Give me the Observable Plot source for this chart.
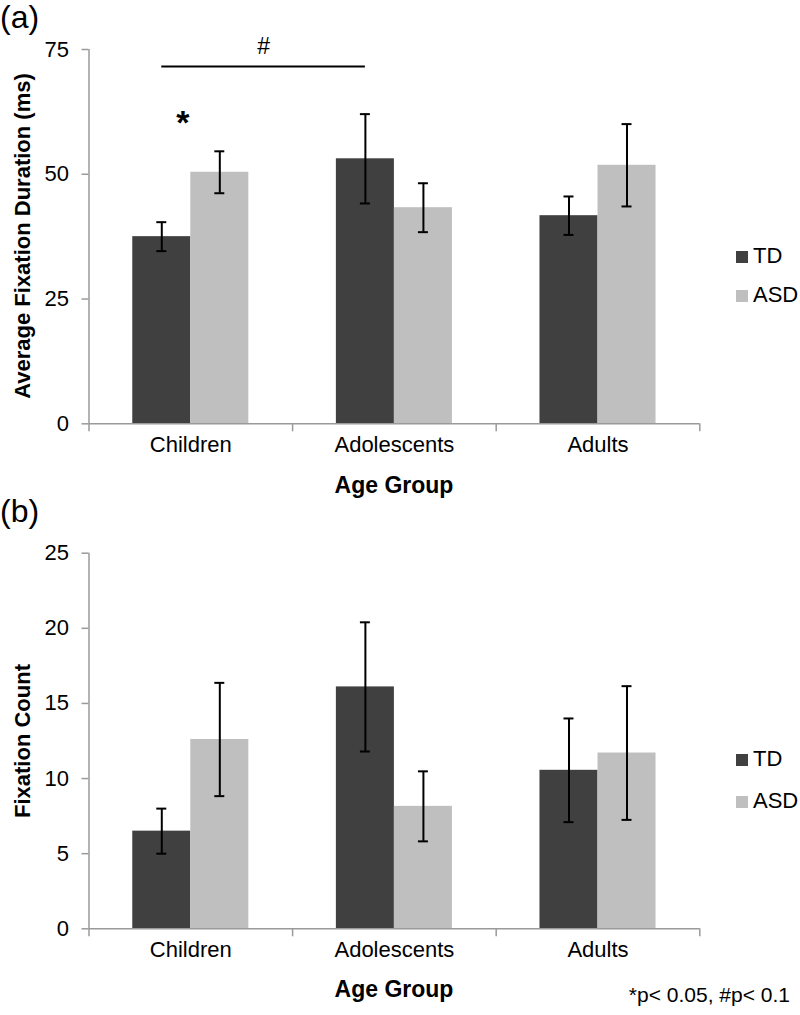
<!DOCTYPE html>
<html>
<head>
<meta charset="utf-8">
<script src="https://cdn.jsdelivr.net/npm/d3@7"></script>
<script src="https://cdn.jsdelivr.net/npm/@observablehq/plot@0.6"></script>
<style>
  html, body { margin: 0; padding: 0; background: #fff; }
  #wrap { position: relative; width: 800px; height: 1015px; overflow: hidden; font-family: "Liberation Sans", Arial, sans-serif; color: #000; }
  .abs { position: absolute; white-space: nowrap; line-height: 1; }
  .panel { position: absolute; left: 0; }
  .sw { position: absolute; width: 12px; height: 12px; }
  .ytitle { position: absolute; font-weight: bold; font-size: 22px; line-height: 1; white-space: nowrap; transform: translate(-50%, -50%) rotate(-90deg); }
</style>
</head>
<body>
<div id="wrap">
  <div class="abs" style="left:0px; top:0px; font-size:32px; line-height:1.1;">(a)</div>
  <div class="abs" style="left:0px; top:494px; font-size:32px; line-height:1.1;">(b)</div>

  <div class="ytitle" style="left:22.5px; top:236px;">Average Fixation Duration (ms)</div>
  <div class="ytitle" style="left:22.5px; top:740.5px;">Fixation Count</div>

  <div class="abs" style="left:394px; top:474px; transform:translateX(-50%); font-size:23px; font-weight:bold;">Age Group</div>
  <div class="abs" style="left:394px; top:978px; transform:translateX(-50%); font-size:23px; font-weight:bold;">Age Group</div>

  <div id="legA"></div>
  <div id="legB"></div>

  <div class="abs" style="right:10px; top:984px; font-size:21px;">*p&lt; 0.05, #p&lt; 0.1</div>

  <div id="panelA" class="panel" style="top:0px;"></div>
  <div id="panelB" class="panel" style="top:500px;"></div>
</div>
<script>
// ---- data ----
const groups = ["Children", "Adolescents", "Adults"];
const series = ["TD", "ASD"];
const seriesColors = ["#404040", "#bfbfbf"];

// (a) Average fixation duration (ms)
const durTD = [37.5, 53.1, 41.7];
const durTDErr = [2.9, 8.95, 3.85];
const durASD = [50.4, 43.3, 51.8];
const durASDErr = [4.2, 4.9, 8.25];
const durTicks = [0, 25, 50, 75];

// (b) Fixation count
const cntTD = [6.5, 16.1, 10.55];
const cntTDErr = [1.5, 4.3, 3.45];
const cntASD = [12.6, 8.15, 11.7];
const cntASDErr = [3.77, 2.33, 4.45];
const cntTicks = [0, 5, 10, 15, 20, 25];

// significance annotations in panel (a)
const hashFrom = ["Children", "TD"];
const hashTo = ["Adolescents", "TD"];
const hashLevel = [71.6];
const hashLabelLevel = [75.6];
const starGroup = ["Children"];
const starLevel = [60.2];

// ---- styles ----
const barFrac = 0.285;   // bar width as fraction of a category band
const capHalf = 0.0245;  // half width of error caps (band fraction)
const axisGray = "#9a9a9a";
const FONT = "'Liberation Sans', Arial, sans-serif";

function rowsOf(td, tdErr, asd, asdErr) {
  const vals = [td, asd], errs = [tdErr, asdErr];
  return groups.flatMap((g, gi) => series.map((s, si) => ({
    group: g, series: s, gi, si,
    value: vals[si][gi], err: errs[si][gi]
  })));
}
const x1Of = d => d.gi + 0.5 - barFrac + d.si * barFrac;
const xcOf = d => x1Of(d) + barFrac / 2;
const centerOf = (g, s) => groups.indexOf(g) + 0.5 - barFrac + series.indexOf(s) * barFrac + barFrac / 2;

function panel({rows, ticks, height, marginTop, marginBottom, extra = []}) {
  return Plot.plot({
    width: 800,
    height,
    marginLeft: 88.5,
    marginRight: 100.7,
    marginTop,
    marginBottom,
    x: {domain: [0, groups.length], axis: null},
    y: {domain: [0, d3.max(ticks)], axis: null},
    color: {domain: series, range: seriesColors},
    style: {fontFamily: FONT, fontSize: "22px", color: "#000", background: "transparent", overflow: "visible"},
    marks: [
      Plot.rectY(rows, {x1: x1Of, x2: d => x1Of(d) + barFrac, y: "value", fill: "series"}),
      Plot.ruleY([0], {stroke: axisGray, strokeWidth: 1.5}),
      Plot.ruleX([0], {stroke: axisGray, strokeWidth: 1.5}),
      Plot.axisY({ticks, tickSize: 7, tickPadding: 13, stroke: axisGray, strokeWidth: 1.5, fill: "#000", label: null, fontSize: 22}),
      Plot.axisX({ticks: d3.range(groups.length + 1), tickSize: 8, tickFormat: () => "", stroke: axisGray, strokeWidth: 1.5, label: null}),
      Plot.axisX({ticks: groups.map((g, i) => i + 0.5), tickSize: 0, tickPadding: 13, tickFormat: v => groups[Math.floor(v)], fill: "#000", label: null, fontSize: 22}),
      Plot.ruleX(rows, {x: xcOf, y1: d => d.value - d.err, y2: d => d.value + d.err, stroke: "#000", strokeWidth: 2}),
      Plot.ruleY(rows, {y: d => d.value + d.err, x1: d => xcOf(d) - capHalf, x2: d => xcOf(d) + capHalf, stroke: "#000", strokeWidth: 2}),
      Plot.ruleY(rows, {y: d => d.value - d.err, x1: d => xcOf(d) - capHalf, x2: d => xcOf(d) + capHalf, stroke: "#000", strokeWidth: 2}),
      ...extra
    ]
  });
}

const rowsA = rowsOf(durTD, durTDErr, durASD, durASDErr);
const rowsB = rowsOf(cntTD, cntTDErr, cntASD, cntASDErr);

const hx1 = centerOf(...hashFrom), hx2 = centerOf(...hashTo);
const extraA = [
  Plot.ruleY(hashLevel, {y: d => d, x1: () => hx1, x2: () => hx2, stroke: "#000", strokeWidth: 2}),
  Plot.text(hashLabelLevel, {y: d => d, x: () => (hx1 + hx2) / 2, text: () => "#", fontSize: 23, fill: "#000"}),
  Plot.text(starLevel, {y: d => d, x: (d, i) => groups.indexOf(starGroup[i]) + 0.5, text: () => "*", fontSize: 34, fontWeight: "bold", dx: -8, fill: "#000"})
];

document.getElementById("panelA").appendChild(panel({rows: rowsA, ticks: durTicks, height: 500, marginTop: 49, marginBottom: 76.7, extra: extraA}));
document.getElementById("panelB").appendChild(panel({rows: rowsB, ticks: cntTicks, height: 515, marginTop: 52.7, marginBottom: 86.7}));

// ---- legends ----
function legend(id, items) {
  const el = document.getElementById(id);
  items.forEach(it => {
    const sw = document.createElement("div");
    sw.className = "sw";
    sw.style.left = "736px";
    sw.style.top = it.sq + "px";
    sw.style.background = seriesColors[series.indexOf(it.s)];
    el.appendChild(sw);
    const t = document.createElement("div");
    t.className = "abs";
    t.style.left = "753px";
    t.style.top = it.t + "px";
    t.style.fontSize = "22px";
    t.textContent = it.s;
    el.appendChild(t);
  });
}
legend("legA", [{s: "TD", sq: 250.5, t: 244.7}, {s: "ASD", sq: 289.5, t: 283.7}]);
legend("legB", [{s: "TD", sq: 754, t: 748}, {s: "ASD", sq: 795.5, t: 789.7}]);
</script>
</body>
</html>
